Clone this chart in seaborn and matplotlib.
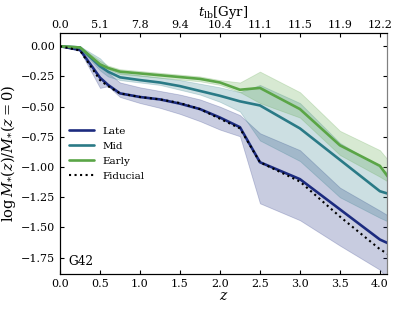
import numpy as np
import pandas as pd
import seaborn as sns
import matplotlib
matplotlib.use("Agg")
import matplotlib.pyplot as plt

# redshift grid of the snapshots
z = [0, 0.25, 0.5, 0.6, 0.75, 1.0, 1.25, 1.5, 1.75, 2.0, 2.25, 2.5, 3.0, 3.5, 4.0, 4.1]

late = [0, -0.03, -0.26, -0.32, -0.39, -0.42, -0.44, -0.475, -0.52, -0.59, -0.67, -0.96, -1.10, -1.35, -1.60, -1.63]
late_lo = [0, -0.04, -0.345, -0.33, -0.42, -0.47, -0.51, -0.56, -0.62, -0.69, -0.745, -1.30, -1.44, -1.65, -1.85, -1.93]
late_hi = [0, -0.02, -0.15, -0.22, -0.30, -0.34, -0.37, -0.40, -0.44, -0.50, -0.57, -0.72, -0.86, -1.17, -1.36, -1.40]

mid = [0, -0.01, -0.166, -0.21, -0.257, -0.28, -0.30, -0.33, -0.37, -0.41, -0.456, -0.49, -0.68, -0.94, -1.20, -1.22]
mid_lo = [0, -0.02, -0.20, -0.25, -0.28, -0.30, -0.32, -0.36, -0.40, -0.46, -0.54, -0.78, -0.95, -1.25, -1.42, -1.45]
mid_hi = [0, 0, -0.10, -0.17, -0.22, -0.24, -0.26, -0.28, -0.31, -0.34, -0.38, -0.32, -0.47, -0.80, -1.00, -1.05]

early = [0, -0.01, -0.15, -0.18, -0.21, -0.225, -0.24, -0.255, -0.27, -0.30, -0.36, -0.345, -0.52, -0.82, -0.99, -1.08]
early_lo = [0, -0.015, -0.16, -0.19, -0.23, -0.245, -0.26, -0.275, -0.29, -0.32, -0.38, -0.47, -0.59, -0.90, -1.08, -1.12]
early_hi = [0, -0.005, -0.12, -0.16, -0.19, -0.205, -0.22, -0.235, -0.25, -0.28, -0.30, -0.21, -0.38, -0.70, -0.86, -0.94]

fiducial = [0, -0.035, -0.28, -0.33, -0.39, -0.42, -0.44, -0.47, -0.52, -0.60, -0.68, -0.96, -1.12, -1.41, -1.68, -1.72]

z_ticks = [0.0, 0.5, 1.0, 1.5, 2.0, 2.5, 3.0, 3.5, 4.0]
tlb_labels = ["0.0", "5.1", "7.8", "9.4", "10.4", "11.1", "11.5", "11.9", "12.2"]

colors = {"Late": "#1c2b7f", "Mid": "#2a7a86", "Early": "#5aa546"}

sns.set_style("ticks")
plt.rcParams["font.family"] = ["DejaVu Serif"]
plt.rcParams["mathtext.fontset"] = "dejavuserif"
plt.rcParams["xtick.direction"] = "in"
plt.rcParams["ytick.direction"] = "in"
for key in ["text.color", "axes.labelcolor", "xtick.color", "ytick.color", "axes.edgecolor"]:
    plt.rcParams[key] = "black"

df = pd.DataFrame({
    "z": z * 3,
    "val": late + mid + early,
    "run": ["Late"] * len(z) + ["Mid"] * len(z) + ["Early"] * len(z),
})

fig = plt.figure(figsize=(3.95, 3.11), dpi=100)
ax = fig.add_axes([0.152, 0.119, 0.828, 0.775])

bands = [("Late", late_lo, late_hi), ("Mid", mid_lo, mid_hi), ("Early", early_lo, early_hi)]
for name, lo, hi in bands:
    ax.fill_between(z, lo, hi, color=colors[name], alpha=0.24, lw=0.6)

sns.lineplot(data=df, x="z", y="val", hue="run", palette=colors, lw=1.9, ax=ax)
sns.lineplot(x=z, y=fiducial, color="black", ls=":", lw=1.5, label="Fiducial", ax=ax)

ax.set_xlim(0, 4.09)
ax.set_ylim(-1.885, 0.11)
ax.set_xticks(z_ticks)
ax.set_yticks([0, -0.25, -0.5, -0.75, -1.0, -1.25, -1.5, -1.75])
ax.tick_params(labelsize=8, right=True, length=3)
ax.set_xlabel(r"$z$", fontsize=10, labelpad=0)
ax.set_ylabel(r"$\log M_{*}(z)/M_{*}(z=0)$", fontsize=10.5, labelpad=2)
ax.spines["right"].set_color("0.5")

ax.text(0.1, -1.81, "G42", fontsize=8.7)

leg = ax.legend(loc="center left", bbox_to_anchor=(0.0, 0.5), frameon=False,
                fontsize=7.5, handlelength=2.4, handletextpad=0.8, labelspacing=0.55)

ax2 = ax.twiny()
ax2.set_xlim(ax.get_xlim())
ax2.set_xticks(z_ticks)
ax2.set_xticklabels(tlb_labels)
ax2.tick_params(labelsize=8, direction="in", length=3, pad=2)
ax2.set_xlabel(r"$t_{\rm lb}$[Gyr]", fontsize=9.5, labelpad=3)
ax2.spines["right"].set_color("0.5")

fig.savefig("out.png", dpi=100)
